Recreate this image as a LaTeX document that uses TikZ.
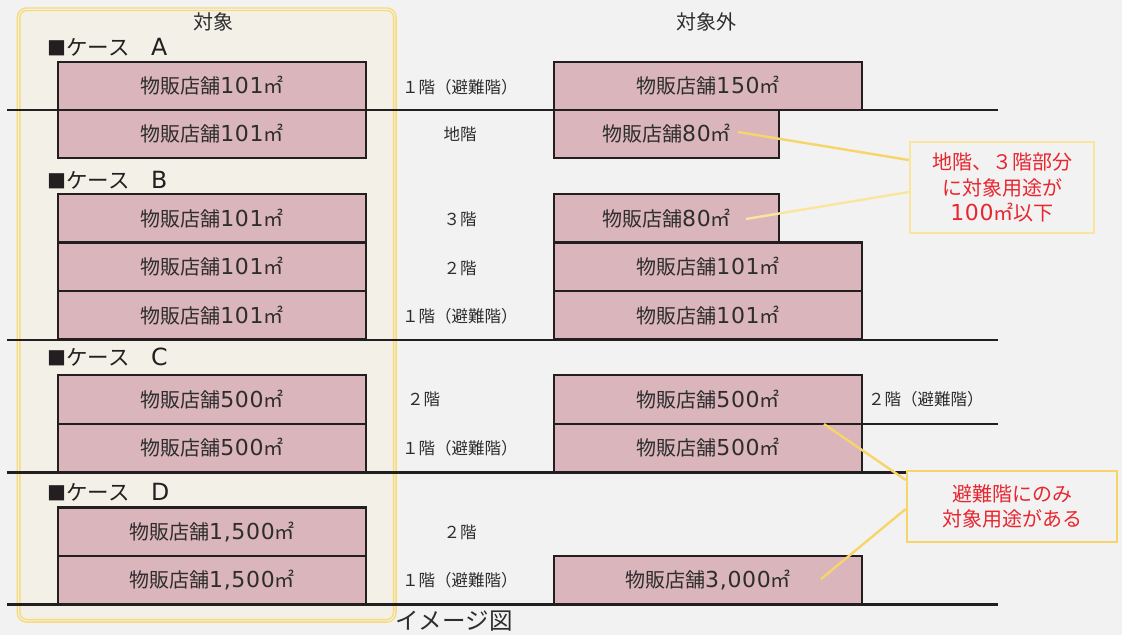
\documentclass[tikz,border=0pt]{standalone}
\usepackage{fontspec}
\setmainfont{Noto Sans CJK JP}
\newfontfamily\lat{DejaVu Sans}[Scale=1.1, LetterSpace=3]
\newcommand\latn[1]{{\lat #1}}
\definecolor{bg}{RGB}{242,242,242}
\definecolor{panelfill}{RGB}{243,240,232}
\definecolor{panelline}{RGB}{248,218,120}
\definecolor{boxfill}{RGB}{218,181,187}
\definecolor{ink}{RGB}{35,31,32}
\definecolor{txt}{RGB}{45,45,45}
\definecolor{redtxt}{RGB}{232,38,47}
\definecolor{ydark}{RGB}{246,213,106}
\definecolor{ylight}{RGB}{249,230,156}
\begin{document}
\begin{tikzpicture}[x=1pt,y=-1pt,
  box/.style={draw=ink, fill=boxfill, line width=2.4pt, inner sep=0pt,
    minimum height=48.5pt, text=txt, font=\fontsize{20}{24}\selectfont},
  wide/.style={box, minimum width=308pt},
  narrow/.style={box, minimum width=225pt},
  lbl/.style={text=txt, inner sep=0pt, font=\fontsize{16.5}{19}\selectfont},
  hdr/.style={text=txt, inner sep=0pt, font=\fontsize{20}{24}\selectfont},
  capt/.style={text=txt, inner sep=0pt, font=\fontsize{23.5}{27}\selectfont},
  casel/.style={text=ink, inner sep=0pt, anchor=west, font=\fontsize{21.5}{25}\selectfont},
  floor/.style={draw=ink, line width=2.4pt},
  callout/.style={draw=#1, line width=2.6pt, fill=bg, align=center, text=redtxt,
    inner sep=0pt, font=\fontsize{20}{25.5}\selectfont},
  leader/.style={draw=#1, line width=2.4pt}
]
\fill[bg] (0,0) rectangle (1122,635);
\useasboundingbox (0,0) rectangle (1122,635);

% left panel
\draw[panelline, fill=panelfill, line width=1.4pt, double=panelfill, double distance=1.1pt, rounded corners=8pt]
  (18.6,9.2) rectangle (394.8,620.8);

\node[hdr] (h1) at (213,22) {対象};
\node[hdr] (h2) at (706,22) {対象外};

% Case A
\node[casel] (ca) at (47,47) {{\fontsize{19}{25}\selectfont ■}ケース　\latn{A}};
\node[wide] (a1) at (212,86) {物販店舗\latn{101}㎡};
\node[wide] (a2) at (212,134) {物販店舗\latn{101}㎡};
\node[wide] (a3) at (708,86) {物販店舗\latn{150}㎡};
\node[narrow] (a4) at (666.5,134) {物販店舗\latn{80}㎡};
\node[lbl, anchor=west] (la1) at (402,87) {１階（避難階）};
\node[lbl] (la2) at (460,134) {地階};

% Case B
\node[casel] (cb) at (47,180) {{\fontsize{19}{25}\selectfont ■}ケース　\latn{B}};
\node[wide] (b1) at (212,218.2) {物販店舗\latn{101}㎡};
\node[wide] (b2) at (212,266.7) {物販店舗\latn{101}㎡};
\node[wide] (b3) at (212,315.3) {物販店舗\latn{101}㎡};
\node[narrow] (b4) at (666.5,218.2) {物販店舗\latn{80}㎡};
\node[wide] (b5) at (708,266.7) {物販店舗\latn{101}㎡};
\node[wide] (b6) at (708,315.3) {物販店舗\latn{101}㎡};
\node[lbl] (lb1) at (460,219) {３階};
\node[lbl] (lb2) at (460,268) {２階};
\node[lbl, anchor=west] (lb3) at (402,316) {１階（避難階）};

% Case C
\node[casel] (cc) at (47,357) {{\fontsize{19}{25}\selectfont ■}ケース　\latn{C}};
\node[wide] (c1) at (212,399.5) {物販店舗\latn{500}㎡};
\node[wide] (c2) at (212,448) {物販店舗\latn{500}㎡};
\node[wide] (c3) at (708,399.5) {物販店舗\latn{500}㎡};
\node[wide] (c4) at (708,448) {物販店舗\latn{500}㎡};
\node[lbl, anchor=west] (lc1) at (407,399) {２階};
\node[lbl, anchor=west] (lc2) at (402,448) {１階（避難階）};
\node[lbl, anchor=west] (lc3) at (868,399) {２階（避難階）};

% Case D
\node[casel] (cd) at (47,492) {{\fontsize{19}{25}\selectfont ■}ケース　\latn{D}};
\node[wide] (d1) at (212,531.7) {物販店舗\latn{1,500}㎡};
\node[wide] (d2) at (212,580.2) {物販店舗\latn{1,500}㎡};
\node[wide] (d3) at (708,580.2) {物販店舗\latn{3,000}㎡};
\node[lbl] (ld1) at (460,532) {２階};
\node[lbl, anchor=west] (ld2) at (402,580) {１階（避難階）};

% floor lines
\coordinate (f1a) at (7,110); \coordinate (f1b) at (998,110);
\coordinate (f2a) at (7,340); \coordinate (f2b) at (998,340);
\coordinate (f3a) at (862,424); \coordinate (f3b) at (998,424);
\coordinate (f4a) at (7,472.5); \coordinate (f4b) at (998,472.5);
\coordinate (f5a) at (7,604.5); \coordinate (f5b) at (998,604.5);
\draw[floor] (f1a) -- (f1b);
\draw[floor] (f2a) -- (f2b);
\draw[floor] (f3a) -- (f3b);
\draw[floor] (f4a) -- (f4b);
\draw[floor] (f5a) -- (f5b);

\node[capt] (img) at (454,621) {イメージ図};

% callouts
\node[callout=ylight, minimum width=184pt, minimum height=91pt] (k1) at (1002,187.5)
  {地階、３階部分\\に対象用途が\\\latn{100}㎡以下};
\node[callout=ydark, minimum width=210pt, minimum height=71pt] (k2) at (1012,506.5)
  {避難階にのみ\\対象用途がある};

\coordinate (p1) at (738,132);
\coordinate (p2) at (746,219);
\coordinate (p3) at (824,424);
\coordinate (p4) at (821,579);
\draw[leader=ydark] (p1) -- (k1.west |- 0,160);
\draw[leader=ylight] (p2) -- (k1.west |- 0,192);
\draw[leader=ydark] (p3) -- (k2.west |- 0,480);
\draw[leader=ydark] (p4) -- (k2.west |- 0,509);
\end{tikzpicture}
\end{document}
